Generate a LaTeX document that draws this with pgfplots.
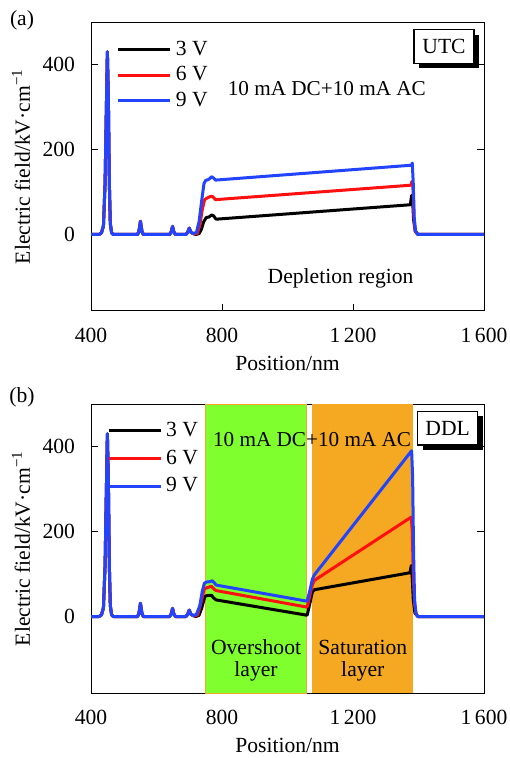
\documentclass[border=0pt]{standalone}
\usepackage{fontspec}
\setmainfont{Liberation Serif}
\usepackage{pgfplots}
\pgfplotsset{compat=1.18}
\usetikzlibrary{shadows}

\definecolor{cblue}{HTML}{2244FF}
\definecolor{cred}{HTML}{FF1010}
\definecolor{cgreen}{HTML}{7FFF2E}
\definecolor{corange}{HTML}{F5A822}

\newcommand{\fs}{\fontsize{10.8}{13}\selectfont}

\pgfplotsset{
  panel/.style={
    scale only axis, width=196.5pt, height=144.5pt,
    xmin=400, xmax=1600, ymin=-180, ymax=500,
    xtick={400,800,1200,1600},
    xticklabels={400,800,1\,200,1\,600},
    ytick={0,200,400},
    xtick pos=bottom, ytick pos=both,
    tick align=inside, major tick length=3.5pt,
    axis line style={line width=0.5pt},
    every tick/.style={black, line width=0.5pt},
    /pgf/number format/assume math mode=true,
    tick label style={font=\fs},
    xticklabel style={yshift=-5pt},
    yticklabel style={xshift=-4.5pt},
    label style={font=\fs},
    xlabel={Position/nm},
    ylabel={Electric field/kV·cm\textsuperscript{−1}},
    xlabel style={at={(axis description cs:0.5,-0.183)}, anchor=center},
    ylabel style={at={(axis description cs:-0.178,0.5)}, anchor=center},
    legend image code/.code={\draw[#1] (0pt,0pt) -- (26pt,0pt);},
    legend cell align=left,
    every axis plot/.append style={line width=1.5pt, line join=round},
  },
}
\tikzset{
  boxnote/.style={draw, fill=white, line width=0.6pt, minimum width=30pt, minimum height=16.8pt,
    inner sep=0pt, font=\fs,
    drop shadow={shadow xshift=2.5pt, shadow yshift=-2.5pt, fill=black, opacity=1}},
}

\begin{document}
\begin{tikzpicture}
\useasboundingbox (0pt,0pt) rectangle (254.5pt,-379pt);

% panel (a)
\begin{axis}[panel, at={(45.5pt,-155.5pt)}, anchor=south west,
  legend style={at={(rel axis cs:0.065,0.95)}, anchor=north west, draw=none, fill=none,
    font=\fs, row sep=0.2pt, inner sep=0pt,
    /tikz/every even column/.append style={column sep=2pt}}]
\addplot[black] coordinates {
 (400,0)(425,0)(432,4)(438,20)(443,120)(447,300)(450,430)(453,320)(456,120)(459,25)(463,4)(468,0)
 (542,0)(546,6)(549,20)(551,31)(553,20)(556,6)(560,0)(640,0)(645,6)(649,19)(653,6)(658,0)
 (690,0)(695,5)(700,15)(705,5)(720,0)(730,2)(737,12)(744,30)(752,40)(760,41)(768,46)(774,44)(782,36)
 (1375,70)(1379,92)(1382,80)(1385,35)(1390,8)(1398,0)(1600,0)};
\addplot[cred] coordinates {
 (400,0)(425,0)(432,4)(438,20)(443,120)(447,300)(450,430)(453,320)(456,120)(459,25)(463,4)(468,0)
 (542,0)(546,6)(549,20)(551,31)(553,20)(556,6)(560,0)(640,0)(645,6)(649,19)(653,6)(658,0)
 (690,0)(695,5)(700,15)(705,5)(715,1)(725,3)(733,25)(740,60)(747,82)(755,86)(766,90)(772,89)(780,82)
 (1377,116)(1380,125)(1383,110)(1386,40)(1390,8)(1398,0)(1600,0)};
\addplot[cblue] coordinates {
 (400,0)(425,0)(432,4)(438,20)(443,120)(447,300)(450,430)(453,320)(456,120)(459,25)(463,4)(468,0)
 (542,0)(546,6)(549,20)(551,31)(553,20)(556,6)(560,0)(640,0)(645,6)(649,19)(653,6)(658,0)
 (690,0)(695,5)(700,15)(705,5)(712,2)(722,5)(730,30)(738,80)(745,120)(750,127)(760,130)(768,136)(774,133)(780,128)
 (1378,163)(1381,168)(1384,120)(1387,40)(1391,8)(1398,0)(1600,0)};
\legend{3 V,6 V,9 V}
\node[font=\fontsize{10.6}{12}\selectfont] at (axis cs:1120,343) {10 mA DC+10 mA AC};
\node[font=\fs] at (axis cs:1162,-104) {Depletion region};
\node[boxnote] at (axis cs:1478,442) {UTC};
\end{axis}
\node[font=\fs] at (11pt,-10pt) {(a)};

% panel (b)
\begin{axis}[panel, at={(45.5pt,-346.5pt)}, anchor=south west,
  legend style={at={(rel axis cs:0.04,0.952)}, anchor=north west, draw=none, fill=none,
    font=\fs, row sep=1.2pt, inner sep=0pt,
    /tikz/every even column/.append style={column sep=2pt}}]
\addplot[draw=corange, line width=0.4pt, fill=cgreen, forget plot] coordinates {
 (748,-180)(748,500)(1059,500)(1059,-180)} -- cycle;
\addplot[draw=none, fill=corange, forget plot] coordinates {
 (1076,-180)(1076,500)(1382,500)(1382,-180)} -- cycle;
\addplot[black] coordinates {
 (400,0)(425,0)(432,4)(438,20)(443,120)(447,300)(450,430)(453,320)(456,120)(459,25)(463,4)(468,0)
 (542,0)(546,6)(549,20)(551,31)(553,20)(556,6)(560,0)(640,0)(645,6)(649,19)(653,6)(658,0)
 (690,0)(695,5)(700,15)(705,5)(720,0)(730,3)(738,20)(748,48)(760,50)(768,50)(774,44)(782,39)
 (1060,3)(1068,30)(1076,58)(1082,63)(1374,103)(1378,120)(1381,90)(1384,40)(1389,8)(1398,0)(1600,0)};
\addplot[cred] coordinates {
 (400,0)(425,0)(432,4)(438,20)(443,120)(447,300)(450,430)(453,320)(456,120)(459,25)(463,4)(468,0)
 (542,0)(546,6)(549,20)(551,31)(553,20)(556,6)(560,0)(640,0)(645,6)(649,19)(653,6)(658,0)
 (690,0)(695,5)(700,15)(705,5)(715,1)(726,4)(735,30)(746,65)(755,68)(768,71)(776,64)(782,61)
 (1060,22)(1068,48)(1076,75)(1082,85)(1378,234)(1381,200)(1384,100)(1388,30)(1393,5)(1398,0)(1600,0)};
\addplot[cblue] coordinates {
 (400,0)(425,0)(432,4)(438,20)(443,120)(447,300)(450,430)(453,320)(456,120)(459,25)(463,4)(468,0)
 (542,0)(546,6)(549,20)(551,31)(553,20)(556,6)(560,0)(640,0)(645,6)(649,19)(653,6)(658,0)
 (690,0)(695,5)(700,15)(705,5)(712,2)(722,5)(732,25)(740,60)(746,78)(752,81)(762,82)(770,84)(776,80)(782,74)
 (1060,36)(1068,60)(1076,88)(1082,98)(1379,390)(1382,330)(1385,150)(1388,40)(1392,8)(1398,0)(1600,0)};
\legend{3 V,6 V,9 V}
\node[font=\fontsize{10.6}{12}\selectfont] at (axis cs:1075,417) {10 mA DC+10 mA AC};
\node[font=\fontsize{10.8}{11}\selectfont, align=center] at (axis cs:904,-104) {Overshoot\\layer};
\node[font=\fontsize{10.8}{11}\selectfont, align=center] at (axis cs:1230,-104) {Saturation\\layer};
\node[boxnote] at (axis cs:1489,443) {DDL};
\end{axis}
\node[font=\fs] at (11pt,-198.5pt) {(b)};
\end{tikzpicture}
\end{document}
